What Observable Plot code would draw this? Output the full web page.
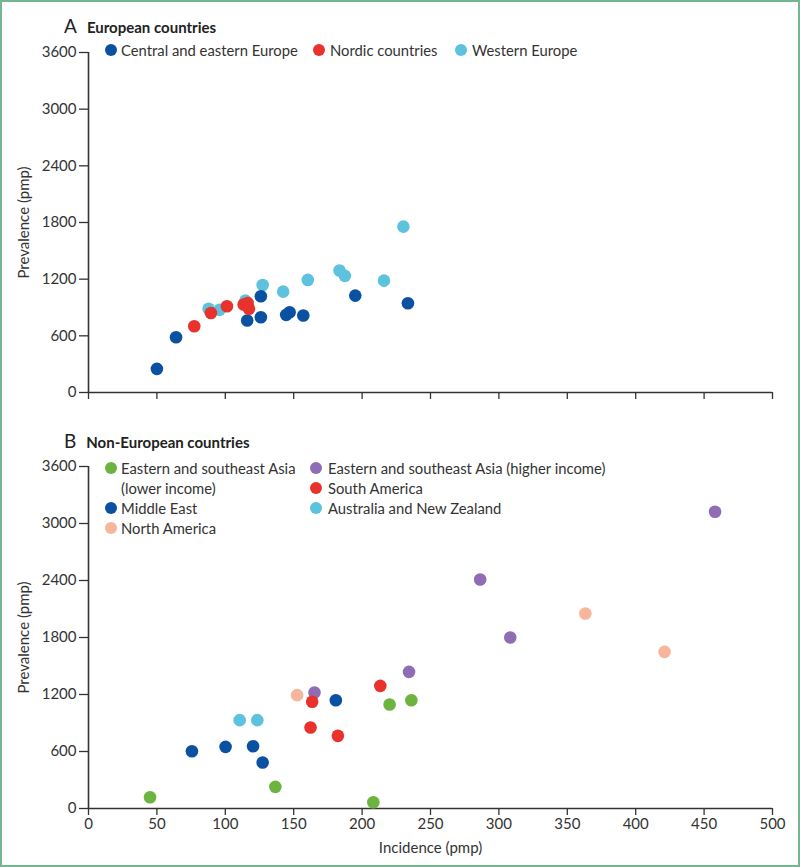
<!DOCTYPE html>
<html><head><meta charset="utf-8">
<script src="https://cdn.jsdelivr.net/npm/d3@7"></script>
<script src="https://cdn.jsdelivr.net/npm/@observablehq/plot@0.6"></script>
<style>
body{margin:0;background:#fff;}
#fig{position:relative;width:800px;height:867px;font-family:Lato,"Noto Sans",sans-serif;color:#333;overflow:hidden;background:#fff}
#frame{position:absolute;left:0;top:0;width:800px;height:867px;box-sizing:border-box;border:2px solid #74b691;pointer-events:none}
.title{position:absolute;left:64px;font-size:15px;font-weight:bold;color:#222;white-space:nowrap}
.title .lab{font-weight:normal;font-size:19px;margin-right:10px}
.panel{position:absolute;left:0}
.leg{position:absolute;font-size:14.8px;line-height:20px;white-space:nowrap;color:#333}
.item{position:absolute;white-space:nowrap}
.dot{position:absolute;width:12px;height:12px;border-radius:50%}
</style></head>
<body>
<div id="fig">
  <div class="title" style="top:14px"><span class="lab">A</span>European countries</div>
  <div class="title" style="top:429px"><span class="lab">B</span>Non-European countries</div>
  <div id="pa" class="panel" style="top:0px"></div>
  <div id="pb" class="panel" style="top:420px"></div>
  <div id="lega" class="leg"></div>
  <div id="legb" class="leg"></div>
  <div id="frame"></div>
</div>
<script>
// ---------- Panel A data ----------
const groupsA = ["Central and eastern Europe", "Nordic countries", "Western Europe"];
const colorsA = ["#0a52a1", "#e8322b", "#5cc2de"];
const ceeX = [50, 64, 116, 126, 126, 144.5, 147, 157, 195, 233.5];
const ceeY = [250, 585, 762, 797, 1019, 822, 850, 815, 1026, 945];
const nordicX = [77.3, 89.5, 101.2, 113.4, 116.3, 117.3];
const nordicY = [702, 841, 913, 931, 948, 886];
const westX = [87.8, 95.8, 114.7, 127.3, 142.3, 160.3, 183.5, 187.4, 216, 230.2];
const westY = [886, 875, 973, 1139, 1068, 1192, 1291, 1235, 1185, 1756];

// ---------- Panel B data ----------
const groupsB = ["Eastern and southeast Asia (lower income)", "Eastern and southeast Asia (higher income)",
  "Middle East", "South America", "North America", "Australia and New Zealand"];
const colorsB = ["#6cb33f", "#8f6db4", "#0a52a1", "#e8322b", "#f7b59b", "#5cc2de"];
const asiaLowX = [45, 136.6, 208.2, 220.1, 236];
const asiaLowY = [119, 228, 66, 1095, 1140];
const asiaHighX = [165.2, 234.3, 286.3, 308.3, 458];
const asiaHighY = [1221, 1438, 2410, 1800, 3123];
const midEastX = [75.6, 100.2, 120.3, 127.3, 180.8];
const midEastY = [603, 649, 656, 484, 1140];
const southAmX = [163.5, 162.3, 182.3, 213.3];
const southAmY = [1123, 853, 765, 1291];
const northAmX = [152.5, 363.2, 421.1];
const northAmY = [1193, 2053, 1649];
const anzX = [110.5, 123.4];
const anzY = [930, 930];

const xTicks = [0, 50, 100, 150, 200, 250, 300, 350, 400, 450, 500];
const yTicks = [0, 600, 1200, 1800, 2400, 3000, 3600];

function rows(xs, ys, g) { return xs.map((x, i) => ({x, y: ys[i], group: g})); }

const dataA = [
  ...rows(westX, westY, groupsA[2]),
  ...rows(ceeX, ceeY, groupsA[0]),
  ...rows(nordicX, nordicY, groupsA[1])
];
const dataB = [
  ...rows(asiaLowX, asiaLowY, groupsB[0]),
  ...rows(asiaHighX, asiaHighY, groupsB[1]),
  ...rows(midEastX, midEastY, groupsB[2]),
  ...rows(southAmX, southAmY, groupsB[3]),
  ...rows(northAmX, northAmY, groupsB[4]),
  ...rows(anzX, anzY, groupsB[5])
];

function panel(data, domain, range, showX, height, mt, mb) {
  return Plot.plot({
    width: 800, height,
    marginLeft: 88, marginRight: 28, marginTop: mt, marginBottom: mb,
    x: {domain: [0, 500]},
    y: {domain: [0, 3600]},
    color: {domain, range},
    style: {fontFamily: "Lato, 'Noto Sans', sans-serif", fontSize: "15px", color: "#333", background: "transparent", overflow: "visible"},
    marks: [
      Plot.axisY({ticks: yTicks, tickSize: 9, tickPadding: 3, tickFormat: d => String(d), fontSize: 15,
        label: "Prevalence (pmp)", labelAnchor: "center", labelOffset: 70, labelArrow: "none", strokeWidth: 1.3}),
      Plot.axisX({ticks: xTicks, tickSize: 7, tickPadding: 3, tickFormat: showX ? (d => String(d)) : (() => ""), fontSize: 15,
        label: showX ? "Incidence (pmp)" : null, labelAnchor: "center", labelOffset: 44, labelArrow: "none", strokeWidth: 1.3}),
      Plot.ruleX([0], {y1: 0, y2: 3600, stroke: "#333", strokeWidth: 1.6}),
      Plot.ruleY([0], {x1: 0, x2: 500, stroke: "#333", strokeWidth: 1.6}),
      Plot.dot(data, {x: "x", y: "y", fill: "group", r: 6.3})
    ]
  });
}

document.getElementById("pa").append(panel(dataA, groupsA, colorsA, false, 410, 52, 18));
document.getElementById("pb").append(panel(dataB, groupsB, colorsB, true, 445, 46, 57));

// ---------- Legends ----------
function legend(el, items) {
  for (const it of items) {
    const d = document.createElement("div");
    d.className = "dot";
    d.style.left = (it.dx - 6) + "px";
    d.style.top = (it.dy - 6) + "px";
    d.style.background = it.color;
    el.append(d);
    const t = document.createElement("div");
    t.className = "item";
    t.style.left = it.tx + "px";
    t.style.top = (it.dy - 10) + "px";
    t.innerHTML = it.text;
    el.append(t);
  }
}
legend(document.getElementById("lega"), [
  {dx: 111, dy: 50, tx: 121, color: colorsA[0], text: groupsA[0]},
  {dx: 319, dy: 50, tx: 330, color: colorsA[1], text: groupsA[1]},
  {dx: 461, dy: 50, tx: 472, color: colorsA[2], text: groupsA[2]}
]);
legend(document.getElementById("legb"), [
  {dx: 111, dy: 468, tx: 121, color: colorsB[0], text: "Eastern and southeast Asia<br>(lower income)"},
  {dx: 111, dy: 508, tx: 121, color: colorsB[2], text: groupsB[2]},
  {dx: 111, dy: 528, tx: 121, color: colorsB[4], text: groupsB[4]},
  {dx: 316, dy: 468, tx: 328, color: colorsB[1], text: groupsB[1]},
  {dx: 316, dy: 488, tx: 328, color: colorsB[3], text: groupsB[3]},
  {dx: 316, dy: 508, tx: 328, color: colorsB[5], text: groupsB[5]}
]);
</script>
</body></html>
